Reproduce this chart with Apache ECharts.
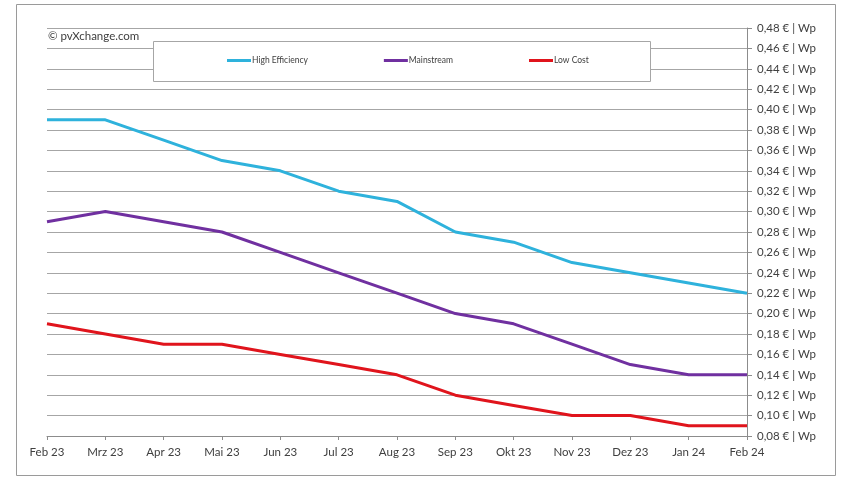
<!DOCTYPE html>
<html>
<head>
<meta charset="utf-8">
<script src="https://cdn.jsdelivr.net/npm/echarts@6/dist/echarts.min.js"></script>
<style>
html,body{margin:0;padding:0;background:#fff;}
#main{width:841px;height:480px;}
</style>
</head>
<body>
<div id="main"></div>
<script>
// Monate
var months = ['Feb 23','Mrz 23','Apr 23','Mai 23','Jun 23','Jul 23','Aug 23','Sep 23','Okt 23','Nov 23','Dez 23','Jan 24','Feb 24'];
// Preise in EUR/Wp
var highEfficiency = [0.39,0.39,0.37,0.35,0.34,0.32,0.31,0.28,0.27,0.25,0.24,0.23,0.22];
var mainstream     = [0.29,0.30,0.29,0.28,0.26,0.24,0.22,0.20,0.19,0.17,0.15,0.14,0.14];
var lowCost        = [0.19,0.18,0.17,0.17,0.16,0.15,0.14,0.12,0.11,0.10,0.10,0.09,0.09];
var seriesNames = ['High Efficiency','Mainstream','Low Cost'];
var seriesColors = ['#2eb2dc','#7030a0','#e0141c'];

var fontName = 'Lato, "Open Sans", sans-serif';
var myChart = echarts.init(document.getElementById('main'));

function makeLine(name, data, color){
	return {
		name: name,
		type: 'line',
		data: data,
		symbol: 'none',
		smooth: false,
		z: 3,
		lineStyle: { color: color, width: 3 },
		itemStyle: { color: color }
	};
}

var option = {
	backgroundColor: '#fff',
	animation: false,
	textStyle: { fontFamily: fontName },
	grid: { left: 47, right: 94, top: 28, bottom: 44 },
	graphic: [
		{ // Rahmen
			type: 'rect', z: 0,
			shape: { x: 16.5, y: 4.5, width: 819, height: 471 },
			style: { fill: 'none', stroke: '#9a9a9a', lineWidth: 1 }
		},
		{ // Legendenkasten
			type: 'rect', z: 50,
			shape: { x: 153.5, y: 41.5, width: 497, height: 40 },
			style: { fill: '#fff', stroke: '#a6a6a6', lineWidth: 1 }
		},
		{
			type: 'text', z: 50, left: 48, top: 30,
			style: { text: '\u00a9 pvXchange.com', fill: '#404040', font: '11.5px ' + fontName }
		}
	],
	legend: {
		data: seriesNames,
		left: 227, top: 56, z: 60,
		icon: 'rect', itemWidth: 24, itemHeight: 3, itemGap: 76,
		textStyle: { fontSize: 8.5, color: '#404040', padding: [0,0,0,-4] },
		padding: 0
	},
	xAxis: {
		type: 'category',
		data: months,
		boundaryGap: false,
		axisLine: { show: true, lineStyle: { color: '#8c8c8c', width: 1 } },
		axisTick: { show: true, length: 4, inside: false, lineStyle: { color: '#8c8c8c' } },
		axisLabel: { color: '#404040', fontSize: 11.5, margin: 10 },
		splitLine: { show: false }
	},
	yAxis: {
		type: 'value',
		position: 'right',
		min: 0.08, max: 0.48, interval: 0.02,
		axisLine: { show: true, lineStyle: { color: '#8c8c8c', width: 1 } },
		axisTick: { show: true, length: 5, lineStyle: { color: '#8c8c8c' } },
		axisLabel: {
			color: '#404040', fontSize: 11.5, margin: 10,
			formatter: function(v){ return v.toFixed(2).replace('.', ',') + ' \u20ac | Wp'; }
		},
		splitLine: { show: true, lineStyle: { color: '#a6a6a6', width: 1 } }
	},
	series: [
		makeLine(seriesNames[0], highEfficiency, seriesColors[0]),
		makeLine(seriesNames[1], mainstream, seriesColors[1]),
		makeLine(seriesNames[2], lowCost, seriesColors[2])
	]
};
myChart.setOption(option);
</script>
</body>
</html>
